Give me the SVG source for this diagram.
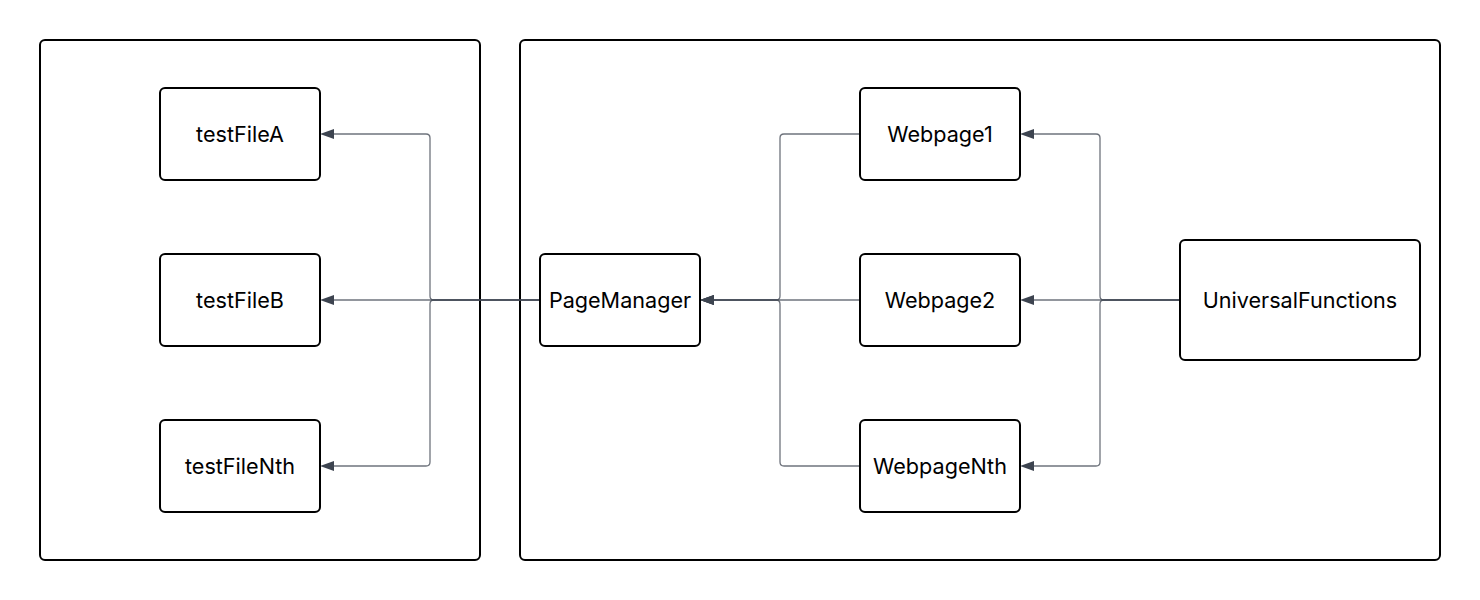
<svg xmlns="http://www.w3.org/2000/svg" width="1480" height="600" viewBox="0 0 1480 600">
<style>
.cl{fill:#fff;stroke:#000;stroke-width:2}
.nd{fill:#fff;stroke:#000;stroke-width:2}
.tx{font-family:Inter,"Liberation Sans",sans-serif;font-size:21.6px;fill:#000;text-anchor:middle;dominant-baseline:central}
.e{fill:none;stroke:#3d4450;stroke-opacity:0.75;stroke-width:1.3}
</style>
<defs>
<marker id="ah" viewBox="0 0 14 10" refX="0" refY="5" markerWidth="14" markerHeight="10" markerUnits="userSpaceOnUse" orient="auto">
<path d="M0,0 L14,5 L0,10 Z" fill="#3d4450"/>
</marker>
</defs>
<rect width="1480" height="600" fill="#fff"/>
<g id="cluster-left"><rect class="cl" x="40" y="40" width="440" height="520" rx="5"/></g>
<g id="cluster-right"><rect class="cl" x="520" y="40" width="920" height="520" rx="5"/></g>
<g id="connectors">
<path class="e" d="M540,300 H434 Q430,300 430,296 V138 Q430,134 426,134 H334" marker-end="url(#ah)"/>
<path class="e" d="M540,300 H334" marker-end="url(#ah)"/>
<path class="e" d="M540,300 H434 Q430,300 430,304 V462 Q430,466 426,466 H334" marker-end="url(#ah)"/>
<path class="e" d="M860,134 H784 Q780,134 780,138 V296 Q780,300 776,300 H714" marker-end="url(#ah)"/>
<path class="e" d="M860,300 H714" marker-end="url(#ah)"/>
<path class="e" d="M860,466 H784 Q780,466 780,462 V304 Q780,300 776,300 H714" marker-end="url(#ah)"/>
<path class="e" d="M1180,300 H1104 Q1100,300 1100,296 V138 Q1100,134 1096,134 H1034" marker-end="url(#ah)"/>
<path class="e" d="M1180,300 H1034" marker-end="url(#ah)"/>
<path class="e" d="M1180,300 H1104 Q1100,300 1100,304 V462 Q1100,466 1096,466 H1034" marker-end="url(#ah)"/>
</g>
<g id="testFileA"><rect class="nd" x="160" y="88" width="160" height="92" rx="5"/><text class="tx" x="240" y="134">testFileA</text></g>
<g id="testFileB"><rect class="nd" x="160" y="254" width="160" height="92" rx="5"/><text class="tx" x="240" y="300">testFileB</text></g>
<g id="testFileNth"><rect class="nd" x="160" y="420" width="160" height="92" rx="5"/><text class="tx" x="240" y="466">testFileNth</text></g>
<g id="PageManager"><rect class="nd" x="540" y="254" width="160" height="92" rx="5"/><text class="tx" x="620" y="300">PageManager</text></g>
<g id="Webpage1"><rect class="nd" x="860" y="88" width="160" height="92" rx="5"/><text class="tx" x="940" y="134">Webpage1</text></g>
<g id="Webpage2"><rect class="nd" x="860" y="254" width="160" height="92" rx="5"/><text class="tx" x="940" y="300">Webpage2</text></g>
<g id="WebpageNth"><rect class="nd" x="860" y="420" width="160" height="92" rx="5"/><text class="tx" x="940" y="466">WebpageNth</text></g>
<g id="UniversalFunctions"><rect class="nd" x="1180" y="240" width="240" height="120" rx="5"/><text class="tx" x="1300" y="300">UniversalFunctions</text></g>
</svg>
